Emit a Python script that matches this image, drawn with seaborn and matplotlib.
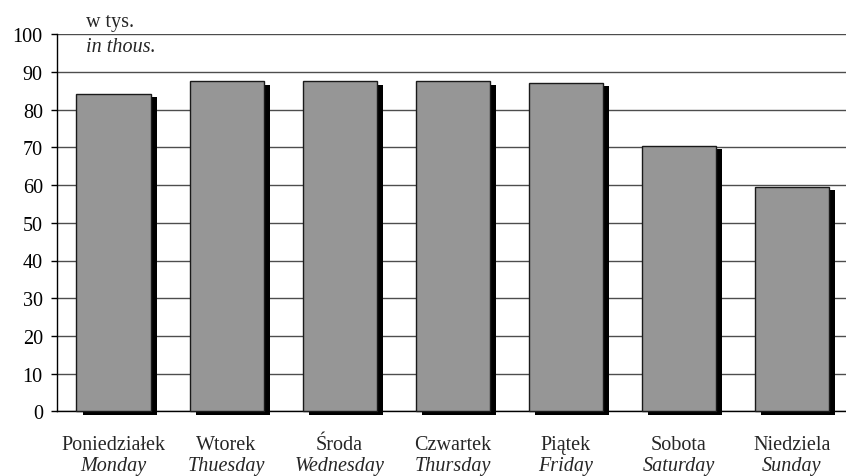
import matplotlib
matplotlib.use("Agg")
import matplotlib.pyplot as plt
import matplotlib.patheffects as pe
import seaborn as sns
import pandas as pd

days_pl = ["Poniedziałek", "Wtorek", "Środa", "Czwartek", "Piątek", "Sobota", "Niedziela"]
days_en = ["Monday", "Thuesday", "Wednesday", "Thursday", "Friday", "Saturday", "Sunday"]
values = [84.2, 87.5, 87.5, 87.5, 87.2, 70.4, 59.6]
y_ticks = [0, 10, 20, 30, 40, 50, 60, 70, 80, 90, 100]

sns.set_theme(style="white")
plt.rcParams["font.family"] = ["Liberation Serif", "DejaVu Serif"]

FS = 14.5

df = pd.DataFrame({"day": days_pl, "value": values})

fig = plt.figure(figsize=(8.46, 4.77), dpi=100)
ax = fig.add_axes([57 / 846, 1 - 412.3 / 477, (846 - 57) / 846, (412.3 - 35.3) / 477])

sns.barplot(data=df, x="day", y="value", color="#969696", saturation=1,
            width=0.655, edgecolor="#1a1a1a", linewidth=1.0, ax=ax, zorder=3)

# drop shadow under each bar
for bar in ax.patches:
    bar.set_clip_on(False)
    bar.set_path_effects([
        pe.SimplePatchShadow(offset=(4.4, -2.5), shadow_rgbFace="black", alpha=1.0),
        pe.Normal(),
    ])

ax.set_ylim(0, 100)
ax.set_xlim(-0.5, 6.48)
ax.set_yticks(y_ticks)
ax.set_yticklabels([str(t) for t in y_ticks], fontsize=FS, color="black")
ax.yaxis.grid(True, color="#4d4d4d", linewidth=1.0, zorder=0)
ax.set_axisbelow(True)
ax.tick_params(axis="y", left=True, length=4.2, width=1.0, color="black", pad=6)
ax.tick_params(axis="x", bottom=False, labelbottom=False)
ax.set_xlabel("")
ax.set_ylabel("")

for side in ["top", "right"]:
    ax.spines[side].set_visible(False)
ax.spines["left"].set_color("black")
ax.spines["left"].set_linewidth(1.0)
ax.spines["bottom"].set_color("black")
ax.spines["bottom"].set_linewidth(1.0)

# two-line category labels: Polish upright, English italic
for i, (pl, en) in enumerate(zip(days_pl, days_en)):
    ax.text(i, -0.100, pl, transform=ax.get_xaxis_transform(), ha="center", va="baseline",
            fontsize=FS)
    ax.text(i, -0.156, en, transform=ax.get_xaxis_transform(), ha="center", va="baseline",
            fontsize=FS, style="italic")

fig.text(86 / 846, 1 - 27 / 477, "w tys.", ha="left", va="baseline", fontsize=FS)
fig.text(86 / 846, 1 - 52 / 477, "in thous.", ha="left", va="baseline", fontsize=FS, style="italic")

fig.savefig("out.png", dpi=100)
